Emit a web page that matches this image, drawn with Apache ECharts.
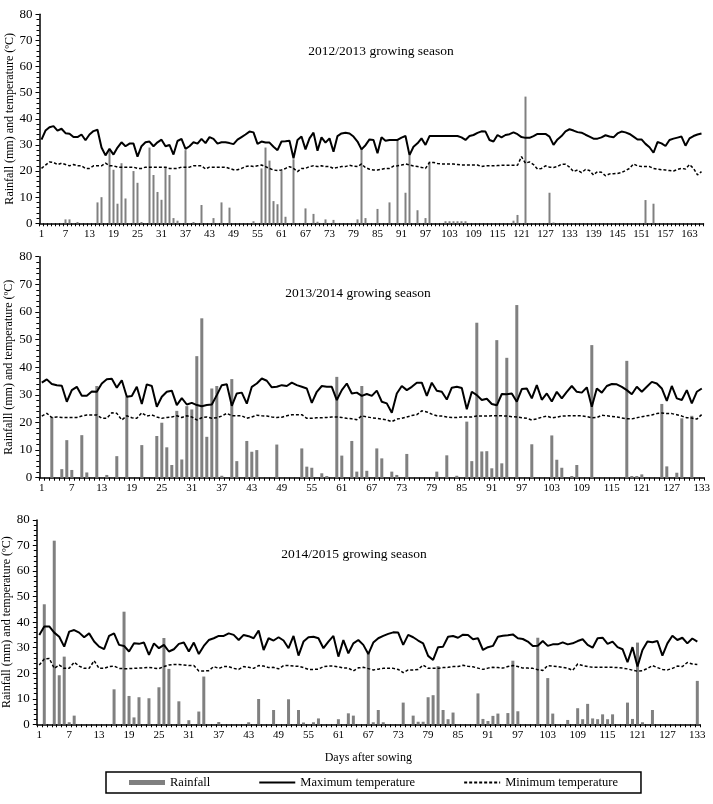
<!DOCTYPE html>
<html>
<head>
<meta charset="utf-8">
<script src="https://cdn.jsdelivr.net/npm/echarts@6/dist/echarts.min.js"></script>
<style>
  html, body { margin: 0; padding: 0; background: #fff; }
  #chart { width: 713px; height: 804px; }
</style>
</head>
<body>
<div id="chart"></div>
<script>
// ---- data ----
var seasonTitles = ['2012/2013 growing season', '2013/2014 growing season', '2014/2015 growing season'];
var yNames = ['Rainfall (mm) and temperature (ºC)', 'Rainfalll (mm) and temperature (ºC)', 'Rainfall (mm) and temperature (ºC)'];
var dayCounts = [166, 133, 133];

// 2012/2013
var max1 = [
  32, 35.5, 36.8, 37.2, 35.5, 36.2, 34.5, 34.3, 33, 33,
  34, 31.8, 34, 35.3, 35.8, 29, 26, 28.5, 26.3, 29,
  31, 29.5, 30.5, 30.5, 25.5, 29.5, 31, 31.3, 29.5, 31,
  32, 29.5, 30, 26.3, 31.5, 32.3, 28.5, 29.5, 31, 30.5,
  32.3, 30.7, 33, 32.3, 30.5, 31, 31, 30.7, 30.3, 32,
  33, 34, 35.1, 34.8, 30.4, 31.3, 30.9, 30.9, 29.3, 28,
  31.3, 31.4, 31.6, 24.9, 31.9, 33.2, 28.3, 32.5, 34.7, 27.8,
  32.9, 30.9, 32.5, 27.4, 33.4, 34.4, 34.7, 34.4, 33.2, 31.3,
  28.3, 29.9, 32.1, 31.9, 26.8, 32.9, 31.6, 31.9, 31.9, 31.9,
  32.8, 33.4, 26.1, 29.3, 30.6, 32.5, 30, 33.4, 33.4, 33.4,
  33.4, 33.4, 33.4, 33.4, 33.4, 32.9, 31.9, 33.4, 33.8, 34.6,
  35.2, 35.1, 31.9, 31.3, 33.8, 32.9, 33.8, 34.1, 34.8, 34.1,
  33, 32.7, 32.7, 33.4, 34.2, 34.2, 34.2, 33.2, 30, 32.1,
  33.4, 35.2, 36, 35.5, 34.9, 34.7, 33.9, 33.2, 32.4, 32.4,
  32.9, 33.7, 33.2, 32.9, 34.4, 35.1, 34.8, 34.2, 33.2, 32.1,
  32.1, 30.4, 29.1, 27, 31.1, 30.6, 29.6, 31.9, 32.4, 32.8,
  33.2, 29.7, 32.5, 33.4, 34, 34.4
];
var min1 = [
  21, 22.3, 23.5, 23.3, 22.5, 23, 22.5, 22, 22.5, 22,
  22, 21, 21, 22, 22, 22, 23, 22, 22, 21.5,
  21.5, 21.5, 21.5, 21.5, 21, 21, 21.5, 21.5, 21.5, 21.5,
  21.5, 21.5, 21, 21, 21, 21.5, 21.5, 21.5, 22, 22,
  22, 20.8, 21.5, 21.5, 21.5, 21.5, 21.5, 21, 20.5, 20.5,
  21, 21.7, 22, 21.7, 22, 22.3, 21.7, 21, 20.4, 20.2,
  20.4, 21, 21.7, 21, 19.8, 21, 21, 21.7, 22, 21.7,
  22, 21.7, 21.7, 21, 21.4, 21.7, 21.7, 22.2, 21.9, 21.7,
  22.7, 21.3, 20.7, 20.4, 20.4, 20.7, 21, 21, 21.9, 22,
  22.3, 22.7, 22.4, 21.9, 21.7, 21.4, 21, 23.3, 23.3, 22.9,
  22.7, 22.7, 22.7, 22.7, 22.5, 22.3, 22.3, 22.3, 22.3, 22.3,
  21.7, 22, 22, 22, 22.1, 22.2, 22.2, 22.2, 22.2, 22.2,
  25.5, 23, 23.5, 22.5, 20.8, 21, 22, 21.5, 21.4, 21.7,
  22.6, 22.6, 21.5, 19.8, 20.4, 19.4, 20.6, 20.2, 18.5, 19.8,
  19.5, 18.2, 18.9, 19, 19.1, 19.4, 20.2, 21, 22.7, 22,
  21.7, 21.7, 21.7, 21, 20.7, 20.5, 20.4, 20.2, 20, 20.6,
  21, 20.8, 22.5, 21, 18.5, 19.8
];
var rainDays1 = [7, 8, 10, 15, 16, 18, 19, 20, 21, 22, 24, 25, 26, 28, 29, 30, 31, 32, 33, 34, 35, 37, 39, 41, 44, 46, 48,
  54, 56, 57, 58, 59, 60, 61, 62, 64, 67, 69, 70, 72, 74, 80, 81, 82, 85, 88, 90, 92, 93, 95, 97, 98,
  102, 103, 104, 105, 106, 107, 119, 120, 122, 128, 129, 152, 154];
var rainMm1 = [1.5, 1.5, 0.5, 8, 10, 28, 20.5, 7.5, 23, 9.5, 20, 15.5, 0.5, 29, 18.5, 12, 9, 21.5, 18.5, 2, 1, 28, 0.5, 7, 2, 8, 6,
  0.8, 21, 29, 24, 8.5, 7.3, 20, 2.5, 24.5, 5.7, 3.6, 0.6, 1.5, 1.3, 1.5, 28.7, 2, 5.5, 8, 32, 11.7, 26, 5, 2, 23.6,
  0.8, 0.8, 0.8, 0.8, 0.8, 0.8, 1, 3.2, 48.5, 11.7, 0.3, 8.9, 7.5];

// 2013/2014
var max2 = [
  34.4, 35.6, 33.9, 33.5, 33.3, 27.5, 31.7, 32.9, 29.7, 29.7,
  31.2, 31.1, 34.1, 35.6, 35.8, 32.6, 35.3, 29.3, 29.6, 32.9,
  26.7, 33.8, 33.2, 25.7, 29.3, 31.1, 31.5, 26.3, 28.8, 26.5,
  27.1, 26.3, 25.9, 26.3, 26.5, 29.9, 33.5, 33.8, 26, 30.5,
  30.8, 26.8, 32.9, 34.1, 35.9, 35.1, 32.7, 32.9, 33.5, 33.2,
  34.4, 33.5, 32.9, 32.3, 27.1, 31.1, 33.2, 32.9, 32.9, 28.1,
  31.7, 34.1, 30.5, 30.8, 29.6, 30.3, 29.6, 31.5, 27.5, 26.9,
  23.5, 30.5, 33.2, 31.7, 32.9, 34.4, 34.4, 29.6, 34.4, 31.5,
  31.1, 28.3, 32.6, 32.9, 32.5, 24.8, 31.1, 29.9, 28.1, 28.6,
  26.7, 26.2, 30.3, 30.2, 30.5, 27.5, 32.1, 32.3, 28.7, 33.5,
  28.2, 30.5, 27.6, 31.1, 28.7, 31.1, 33.2, 31.1, 30.8, 32.7,
  25.7, 32.3, 30.8, 33.2, 33.9, 33.8, 32.9, 31.7, 30.2, 32.9,
  31.1, 32.9, 34.7, 34.1, 32.3, 27.8, 33.2, 28.7, 28.1, 31.7,
  26.9, 31.1, 32.3
];
var min2 = [
  22.3, 23.3, 21.8, 22, 21.8, 21.8, 21.8, 21.8, 22.3, 22.7,
  22.7, 22.7, 21.5, 21.5, 23.5, 23.3, 20.9, 22.4, 21.7, 21.5,
  23.5, 22.3, 22.7, 22, 21.5, 21.8, 22, 22.4, 21.8, 22.4,
  22, 20.9, 21.7, 22, 21.5, 21.7, 22.3, 23.3, 22.4, 22.4,
  22.4, 21.5, 22, 22.6, 22.4, 22.3, 22, 21.8, 21.9, 22.4,
  22.8, 22.8, 22.8, 21.5, 21.5, 21.7, 21.7, 21.8, 22, 22,
  21.8, 21.5, 21.3, 21, 22.4, 22, 21.7, 21.5, 21.2, 20.9,
  20.3, 21.2, 21.5, 22, 22.5, 22.8, 24.2, 23.8, 23, 22.4,
  22.3, 22, 21.8, 21.8, 22, 22, 22, 22.3, 22.3, 22.3,
  22.4, 22.4, 22.4, 22.3, 22.1, 22, 21.7, 21.5, 20.9, 21.3,
  21.9, 22.3, 21.7, 21.9, 22.3, 22.4, 22.4, 22.4, 22.4, 22.1,
  21.7, 21.8, 22.6, 22.4, 22.2, 22, 21.6, 21.3, 21.3, 21.7,
  22.1, 22.4, 22.7, 23.2, 23.4, 23.2, 23.2, 22.8, 22.3, 21.7,
  21.6, 21.2, 22.9
];
var rainDays2 = [3, 5, 6, 7, 9, 10, 12, 14, 16, 18, 21, 24, 25, 26, 27, 28, 29, 30, 31, 32, 33, 34, 35, 36, 37, 39, 40, 42, 43, 44, 48,
  53, 54, 55, 57, 58, 60, 61, 63, 64, 65, 66, 68, 69, 71, 72, 74, 80, 82, 84, 86, 87, 88, 89, 90, 91, 92, 93, 94, 96, 99,
  103, 104, 105, 107, 108, 111, 118, 119, 120, 121, 125, 126, 128, 129, 131];
var rainMm2 = [22, 3.1, 13.6, 2.8, 15.4, 1.9, 33.2, 1, 7.8, 29.3, 11.8, 15.1, 19.9, 11, 4.6, 24.2, 6.6, 25.9, 24.7, 44, 57.7, 14.8, 32.3, 33.2, 0.7, 35.7, 6, 13.3, 9.4, 10, 12,
  10.6, 4, 3.6, 1.6, 0.6, 36.5, 8, 13.3, 2.2, 33.2, 2.5, 10.6, 7, 2.2, 1, 8.6, 2.2, 8.1, 0.7, 20.3, 6, 56.1, 9.5, 9.6, 3.4, 49.8, 5.2, 43.4, 62.5, 12.1,
  15.3, 6.5, 3.6, 0.6, 4.6, 48, 42.3, 0.6, 0.6, 1.2, 26.7, 4.1, 1.8, 21.5, 22.4];

// 2014/2015
var max3 = [
  35, 38.3, 38.3, 35.9, 34.3, 30.4, 36.3, 36.9, 35.9, 34.1,
  35.6, 32.4, 30.4, 29.4, 34.6, 35.6, 31.1, 30.7, 28.5, 31.7,
  31.5, 32, 27.2, 31.7, 29.8, 31.1, 28.5, 29.4, 31.5, 32,
  28.5, 32, 27.5, 30.7, 33, 33.7, 34.6, 34.6, 35.6, 35,
  33, 35, 34.5, 33.7, 36.7, 29.1, 33.7, 32.8, 34.1, 32.8,
  29.8, 34.6, 26.9, 32.4, 34.1, 34.3, 33.7, 29.8, 32.4, 34.6,
  26.5, 33, 27.8, 31.7, 33, 31.1, 27.5, 32, 33.7, 34.6,
  35.4, 36, 35.9, 31.1, 35, 34.1, 32.8, 31.7, 26.8, 25.2,
  30.2, 30.4, 34.3, 34.6, 33.9, 35.1, 35, 33.3, 33.7, 29.1,
  30.2, 30.7, 34.3, 34.7, 34.9, 35.2, 33.7, 33.4, 32.4, 30.7,
  30.8, 32.6, 30.7, 31.3, 31.3, 32.1, 31.3, 31.7, 32.6, 33.3,
  31.1, 30, 33.7, 33.9, 31.5, 32.4, 30.2, 29.4, 24.3, 30.2,
  22.6, 29.1, 32.4, 32.1, 32.6, 26.9, 31.7, 34.7, 33, 33.9,
  31.7, 33.6, 32.4
];
var min3 = [
  23.2, 25.6, 25.8, 21.9, 23.2, 21.9, 21.9, 24.3, 22.8, 21.9,
  21.9, 24.9, 21.9, 21.9, 22.6, 22.8, 21.9, 21.8, 21.8, 21.9,
  22, 22.1, 22.3, 22, 21.8, 22.6, 23.2, 23.4, 23.4, 23.2,
  23, 23, 20.9, 20.9, 21, 22.6, 21.9, 22.6, 22.6, 21.9,
  21.5, 22.6, 22.3, 21.9, 23, 22.8, 22.2, 22.3, 21.7, 23,
  23, 22.8, 22.7, 22.2, 21.5, 21.5, 21.6, 22.6, 22.8, 22.8,
  22.5, 22, 22, 20.9, 22.1, 22.3, 21.8, 21.3, 21.6, 21.9,
  21.9, 21.9, 21.5, 20.2, 21.3, 21.3, 21.5, 23.2, 21.9, 21.9,
  21.9, 22.2, 22.3, 22.6, 22.6, 23.1, 22.7, 22.5, 22, 21.5,
  22, 22.3, 22.2, 22, 22.6, 23, 22.6, 22, 22, 21.9,
  21.4, 21.1, 23, 22.8, 22.6, 22.3, 22, 21.1, 23.6, 23,
  22.6, 22.3, 22.3, 22.3, 22.3, 22.3, 22.2, 22, 21.7, 21.2,
  20.8, 21, 21.9, 23, 22.2, 21.5, 21.3, 21.9, 22.8, 22.6,
  24.2, 23.6, 23.4
];
var rainDays3 = [2, 4, 5, 6, 7, 8, 16, 18, 19, 20, 21, 23, 25, 26, 27, 29, 31, 33, 34, 37, 43, 45, 48, 51, 53, 54, 56, 57,
  61, 63, 64, 67, 68, 69, 70, 74, 76, 77, 78, 79, 80, 81, 82, 83, 84, 89, 90, 91, 92, 93, 95, 96, 97,
  101, 103, 104, 107, 109, 110, 111, 112, 113, 114, 115, 116, 119, 120, 121, 122, 124, 133];
var rainMm3 = [47, 71.9, 19.2, 26.5, 0.8, 3.4, 13.7, 44.1, 11.1, 2.7, 10.6, 10.2, 14.5, 33.8, 21.7, 9, 1.6, 5, 18.7, 0.9, 0.8, 9.9, 5.6, 9.8, 5.6, 0.7, 0.8, 2.3,
  2, 4.3, 3.4, 27.8, 0.8, 5.6, 0.8, 8.5, 3.4, 1, 1, 10.6, 11.4, 22.8, 5.6, 2, 4.6, 12.1, 2.1, 1.3, 3.3, 4.2, 4.4, 24.9, 5.1,
  33.9, 18.1, 4.2, 1.7, 6.3, 2, 8, 2.3, 2, 3.9, 2, 3.9, 8.5, 2.1, 32, 0.8, 5.6, 17];

// ---- layout ----
var FONT = "'Liberation Serif','Times New Roman',serif";
var grids = [
  { left: 39.5, top: 14.3, width: 664, height: 209, outerBoundsMode: 'none', containLabel: false },
  { left: 39.3, top: 256.7, width: 665, height: 221, outerBoundsMode: 'none', containLabel: false },
  { left: 36.8, top: 520, width: 663, height: 204.3, outerBoundsMode: 'none', containLabel: false }
];
var titlePos = [[376, 39], [353, 281], [349, 542]];
var barWidths = [2, 3, 3];

var maxs = [max1, max2, max3];
var mins = [min1, min2, min3];
var rainDays = [rainDays1, rainDays2, rainDays3];
var rainMms = [rainMm1, rainMm2, rainMm3];

function dayLabels(n) {
  var a = [];
  for (var i = 1; i <= n; i++) a.push(String(i));
  return a;
}
function rainSeries(n, days, mm) {
  var a = [];
  for (var i = 0; i < n; i++) a.push(0);
  for (var j = 0; j < days.length; j++) a[days[j] - 1] = mm[j];
  return a;
}

var xAxes = [], yAxes = [], series = [], titles = [];
for (var p = 0; p < 3; p++) {
  xAxes.push({
    type: 'category',
    gridIndex: p,
    data: dayLabels(dayCounts[p]),
    boundaryGap: true,
    name: p === 2 ? 'Days after sowing' : '',
    nameLocation: 'middle',
    nameGap: 28,
    nameMoveOverlap: false,
    nameTextStyle: { fontFamily: FONT, fontSize: 12, color: '#000' },
    axisLine: { lineStyle: { color: '#000', width: 1.5 } },
    axisTick: { show: true, interval: 0, length: 3, lineStyle: { color: '#000', width: 1 } },
    axisLabel: { interval: 5, color: '#000', fontFamily: FONT, fontSize: 11, margin: 5 },
    splitLine: { show: false }
  });
  yAxes.push({
    type: 'value',
    gridIndex: p,
    min: 0,
    max: 80,
    interval: 10,
    name: yNames[p],
    nameLocation: 'middle',
    nameGap: 24,
    nameMoveOverlap: false,
    nameRotate: 90,
    nameTextStyle: { fontFamily: FONT, fontSize: 12, color: '#000' },
    axisLine: { show: true, lineStyle: { color: '#000', width: 1.5 } },
    axisTick: { show: true, length: 4, lineStyle: { color: '#000' } },
    minorTick: { show: true, splitNumber: 5, length: 3, lineStyle: { color: '#000' } },
    axisLabel: { color: '#000', fontFamily: FONT, fontSize: 13, margin: 7 },
    splitLine: { show: false }
  });
  titles.push({
    text: seasonTitles[p],
    left: titlePos[p][0],
    top: titlePos[p][1],
    textAlign: 'center',
    textStyle: { fontFamily: FONT, fontSize: 13.5, fontWeight: 'normal', color: '#000' }
  });
  series.push({
    name: 'Rainfall',
    type: 'bar',
    xAxisIndex: p,
    yAxisIndex: p,
    data: rainSeries(dayCounts[p], rainDays[p], rainMms[p]),
    barWidth: barWidths[p],
    itemStyle: { color: '#808080' },
    z: 2
  });
  series.push({
    name: 'Maximum temperature',
    type: 'line',
    xAxisIndex: p,
    yAxisIndex: p,
    data: maxs[p],
    symbol: 'none',
    lineStyle: { color: '#000', width: 2 },
    itemStyle: { color: '#000' },
    z: 3
  });
  series.push({
    name: 'Minimum temperature',
    type: 'line',
    xAxisIndex: p,
    yAxisIndex: p,
    data: mins[p],
    symbol: 'none',
    lineStyle: { color: '#000', width: 1.5, type: [3, 2] },
    itemStyle: { color: '#000' },
    z: 3
  });
}

var chart = echarts.init(document.getElementById('chart'));
chart.setOption({
  animation: false,
  backgroundColor: '#fff',
  title: titles,
  grid: grids,
  xAxis: xAxes,
  yAxis: yAxes,
  legend: {
    left: 106,
    top: 772,
    padding: [4, 23, 4, 23],
    itemGap: 48,
    itemWidth: 36,
    itemHeight: 5,
    borderColor: '#000',
    borderWidth: 1.5,
    textStyle: { fontFamily: FONT, fontSize: 12.5, color: '#000' },
    data: [
      { name: 'Rainfall', icon: 'rect' },
      { name: 'Maximum temperature', itemStyle: { opacity: 0 } },
      { name: 'Minimum temperature', itemStyle: { opacity: 0 } }
    ]
  },
  series: series
});
</script>
</body>
</html>
